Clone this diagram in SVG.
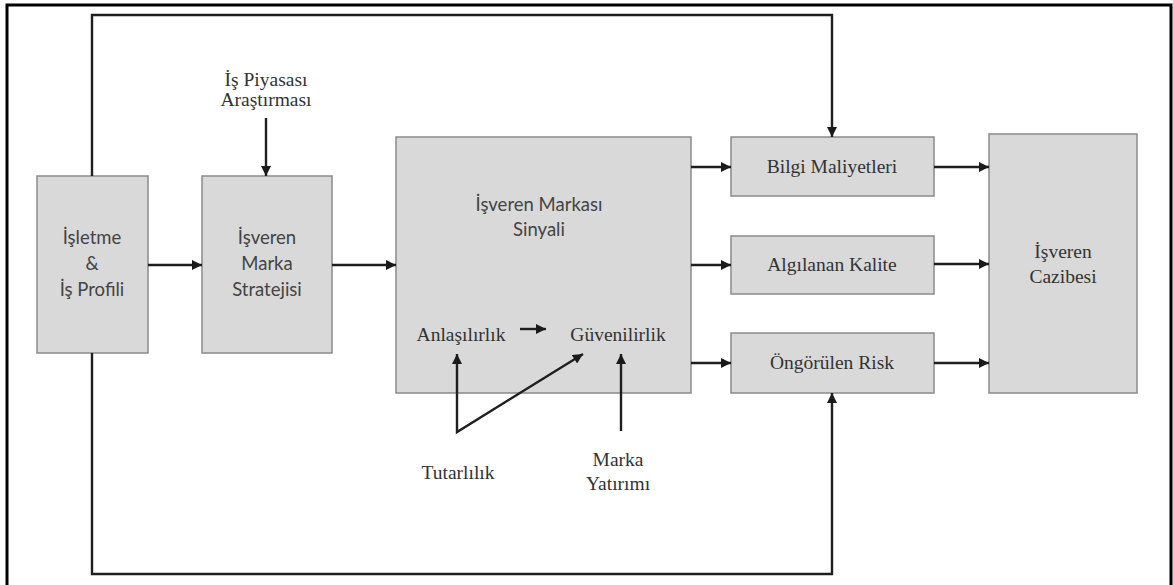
<svg xmlns="http://www.w3.org/2000/svg" width="1173" height="585" viewBox="0 0 1173 585">
  <defs>
    <marker id="arrow" viewBox="0 0 10 10" refX="10" refY="5" markerWidth="11" markerHeight="10" markerUnits="userSpaceOnUse" orient="auto-start-reverse">
      <path d="M0,0 L10,5 L0,10 Z" fill="#1a1a1a"/>
    </marker>
    <style>
      .box { fill: #d9d9d9; stroke: #8a8a8a; stroke-width: 1.5; }
      .serif { font-family: 'Liberation Serif', serif; font-size: 19.5px; fill: #333333; text-anchor: middle; }
      .sans { font-family: Lato, 'Open Sans', sans-serif; font-size: 18.5px; fill: #444444; text-anchor: middle; }
      .arr { fill: none; stroke: #1f1f1f; stroke-width: 2.4; marker-end: url(#arrow); }
    </style>
  </defs>

  <rect width="1173" height="585" fill="#ffffff"/>

  <!-- outer frame (top, left and right edges) -->
  <path d="M7,585 V5 H1171 V585" fill="none" stroke="#000" stroke-width="3"/>

  <g id="isletme">
    <rect class="box" x="37" y="176" width="111" height="177"/>
    <text class="sans" font-family="Lato, sans-serif" x="92" y="244">İşletme</text>
    <text class="sans" font-family="Lato, sans-serif" x="92" y="270">&amp;</text>
    <text class="sans" font-family="Lato, sans-serif" x="92" y="296">İş Profili</text>
  </g>

  <g id="strateji">
    <rect class="box" x="202" y="176" width="130" height="177"/>
    <text class="sans" font-family="Lato, sans-serif" x="267" y="244">İşveren</text>
    <text class="sans" font-family="Lato, sans-serif" x="267" y="270">Marka</text>
    <text class="sans" font-family="Lato, sans-serif" x="267" y="296">Stratejisi</text>
  </g>

  <g id="piyasa">
    <text class="serif" font-family="Liberation Serif, serif" x="266" y="86">İş Piyasası</text>
    <text class="serif" font-family="Liberation Serif, serif" x="266" y="106">Araştırması</text>
  </g>

  <g id="sinyal">
    <rect class="box" x="396" y="137" width="295" height="256"/>
    <text class="sans" font-family="Lato, sans-serif" x="539" y="211">İşveren Markası</text>
    <text class="sans" font-family="Lato, sans-serif" x="539" y="236">Sinyali</text>
  </g>

  <g id="anlasilirlik">
    <text class="serif" font-family="Liberation Serif, serif" x="461" y="341">Anlaşılırlık</text>
  </g>

  <g id="guvenilirlik">
    <text class="serif" font-family="Liberation Serif, serif" x="618" y="341">Güvenilirlik</text>
  </g>

  <g id="tutarlilik">
    <text class="serif" font-family="Liberation Serif, serif" x="458" y="479">Tutarlılık</text>
  </g>

  <g id="yatirim">
    <text class="serif" font-family="Liberation Serif, serif" x="618" y="466">Marka</text>
    <text class="serif" font-family="Liberation Serif, serif" x="618" y="490">Yatırımı</text>
  </g>

  <g id="bilgi">
    <rect class="box" x="731" y="137" width="203" height="59"/>
    <text class="serif" font-family="Liberation Serif, serif" x="832" y="173">Bilgi Maliyetleri</text>
  </g>

  <g id="kalite">
    <rect class="box" x="731" y="236" width="203" height="58"/>
    <text class="serif" font-family="Liberation Serif, serif" x="832" y="271">Algılanan Kalite</text>
  </g>

  <g id="risk">
    <rect class="box" x="731" y="333" width="203" height="60"/>
    <text class="serif" font-family="Liberation Serif, serif" x="832" y="369">Öngörülen Risk</text>
  </g>

  <g id="cazibe">
    <rect class="box" x="989" y="134" width="148" height="259"/>
    <text class="serif" font-family="Liberation Serif, serif" x="1063" y="258">İşveren</text>
    <text class="serif" font-family="Liberation Serif, serif" x="1063" y="283">Cazibesi</text>
  </g>

  <g id="connectors">
    <line class="arr" x1="148" y1="265" x2="202" y2="265"/>
    <line class="arr" x1="332" y1="265" x2="396" y2="265"/>
    <line class="arr" x1="266" y1="118" x2="266" y2="176"/>
    <line class="arr" x1="691" y1="167" x2="731" y2="167"/>
    <line class="arr" x1="691" y1="265" x2="731" y2="265"/>
    <line class="arr" x1="691" y1="363" x2="731" y2="363"/>
    <line class="arr" x1="934" y1="167" x2="989" y2="167"/>
    <line class="arr" x1="934" y1="264" x2="989" y2="264"/>
    <line class="arr" x1="934" y1="363" x2="989" y2="363"/>
    <line class="arr" x1="520" y1="329" x2="546" y2="329"/>
    <polyline class="arr" style="marker-start: url(#arrow)" points="583,354 457,432 457,354"/>
    <line class="arr" x1="621" y1="431" x2="621" y2="354"/>
    <polyline class="arr" points="92,176 92,15 832,15 832,137"/>
    <polyline class="arr" points="92,353 92,574 832,574 832,393"/>
  </g>
</svg>
